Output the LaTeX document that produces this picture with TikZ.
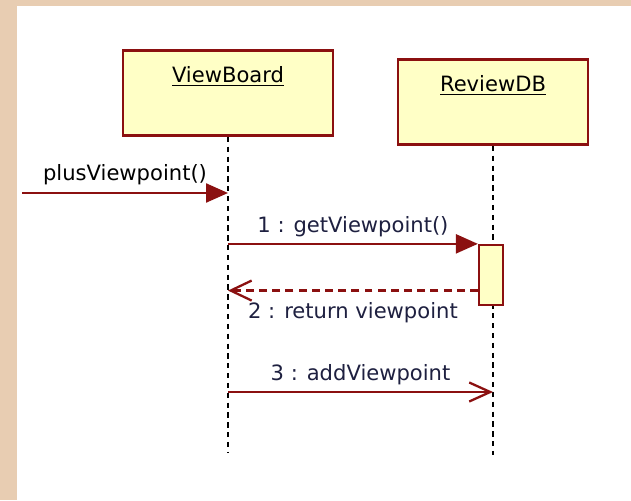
\documentclass[tikz,border=0pt]{standalone}
\usepackage{fontspec}
\setmainfont{DejaVu Sans}
\usetikzlibrary{arrows.meta,positioning,calc}
\definecolor{SeqRed}{HTML}{8B1010}
\definecolor{SeqFill}{HTML}{FFFFC6}
\definecolor{SeqInk}{HTML}{1E2040}
\definecolor{WoodTan}{HTML}{E8CDB2}

\begin{document}
\begin{tikzpicture}[
  x=0.02cm, y=-0.02cm,
  every node/.style={font=\fontsize{12}{14}\selectfont},
  object/.style={draw=SeqRed,line width=1.6pt,fill=SeqFill,minimum height=1.7cm},
  activation/.style={draw=SeqRed,line width=1.3pt,fill=SeqFill,
    minimum width=0.48cm,minimum height=1.2cm,inner sep=0pt},
  objname/.style={anchor=base,yshift=-0.67cm,inner sep=0pt},
  lifeline/.style={black,line width=0.9pt,dash pattern=on 3pt off 2.6pt},
  call/.style={SeqRed,line width=1.3pt,-{Triangle[length=4.4mm,width=3.8mm]}},
  reply/.style={SeqRed,line width=1.3pt,dash pattern=on 4.5pt off 3pt,
    -{Straight Barb[length=4.2mm,width=4mm]}},
  send/.style={SeqRed,line width=1.3pt,-{Straight Barb[length=4.2mm,width=3.8mm]}},
  msg/.style={text=SeqInk}
]
\useasboundingbox (0,0) rectangle (631,500);
\fill[WoodTan] (0,0) rectangle (631,500);
\fill[white] (17,6) rectangle (631,500);

% objects
\node[object,minimum width=4.2cm,
  label={[objname,name=vbname]north:\underline{ViewBoard}}] (vb) at (228,93) {};
\node[object,minimum width=3.8cm,
  label={[objname,name=rdbname]north:\underline{ReviewDB}}] (rdb) at (493,102) {};

% lifelines
\coordinate (vbend) at (228,452);
\coordinate (rdbend) at (493,455);
\draw[lifeline] (vb.south) -- (vbend);
\draw[lifeline] (rdb.south) -- (rdbend);

\node[activation] (act) at (491,275) {};

% messages
\coordinate (caller) at (22,193);
\draw[call] (caller) -- (caller -| vb.south)
  node[midway,above,inner sep=4pt,text=black] (m0) {plusViewpoint()};
\draw[call] (act.north west -| vb.south) -- (act.north west)
  node[midway,above,msg] (m1) {1 : getViewpoint()};
\coordinate (ret) at ($(act.south west)!0.25!(act.north west)$);
\draw[reply] (ret) -- (ret -| vb.south)
  node[midway,below,msg,yshift=-0.1cm] (m2) {2 : return viewpoint};
\coordinate (add) at (228,392);
\draw[send] (add) -- (add -| rdb.south)
  node[midway,above,msg] (m3) {3 : addViewpoint};
\end{tikzpicture}
\end{document}
